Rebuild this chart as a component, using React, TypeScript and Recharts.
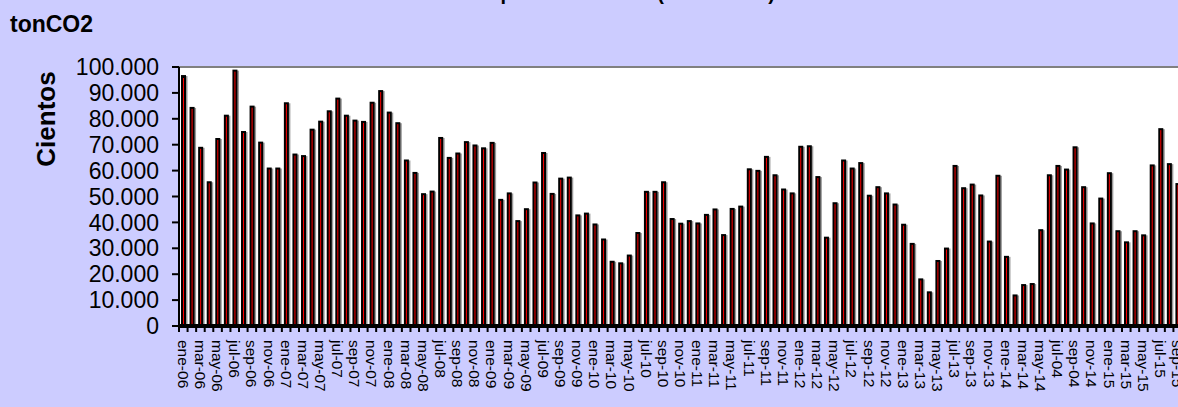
import { BarChart, Bar, XAxis, YAxis, CartesianGrid, ReferenceLine, Label } from "recharts";

const FONT = "Arial, 'Liberation Sans', sans-serif";

const TITLE = "Emisiones de CO2 por combustión (miles tCO2)";
const UNIT = "tonCO2";
const Y_LABEL = "Cientos";

// one label per month, as printed in the original (incl. "jul-04" / "sep-04")
const MESES = [
  "ene-06", "feb-06", "mar-06", "abr-06", "may-06", "jun-06", "jul-06", "ago-06", "sep-06", "oct-06", "nov-06", "dic-06",
  "ene-07", "feb-07", "mar-07", "abr-07", "may-07", "jun-07", "jul-07", "ago-07", "sep-07", "oct-07", "nov-07", "dic-07",
  "ene-08", "feb-08", "mar-08", "abr-08", "may-08", "jun-08", "jul-08", "ago-08", "sep-08", "oct-08", "nov-08", "dic-08",
  "ene-09", "feb-09", "mar-09", "abr-09", "may-09", "jun-09", "jul-09", "ago-09", "sep-09", "oct-09", "nov-09", "dic-09",
  "ene-10", "feb-10", "mar-10", "abr-10", "may-10", "jun-10", "jul-10", "ago-10", "sep-10", "oct-10", "nov-10", "dic-10",
  "ene-11", "feb-11", "mar-11", "abr-11", "may-11", "jun-11", "jul-11", "ago-11", "sep-11", "oct-11", "nov-11", "dic-11",
  "ene-12", "feb-12", "mar-12", "abr-12", "may-12", "jun-12", "jul-12", "ago-12", "sep-12", "oct-12", "nov-12", "dic-12",
  "ene-13", "feb-13", "mar-13", "abr-13", "may-13", "jun-13", "jul-13", "ago-13", "sep-13", "oct-13", "nov-13", "dic-13",
  "ene-14", "feb-14", "mar-14", "abr-14", "may-14", "jun-14", "jul-04", "ago-04", "sep-04", "oct-14", "nov-14", "dic-14",
  "ene-15", "feb-15", "mar-15", "abr-15", "may-15", "jun-15", "jul-15", "ago-15", "sep-15",
];

const VALORES = [
  96500, 84200, 68800, 55500, 72200, 81200, 98600, 74900, 84700, 70800, 60800, 60800,
  86000, 66200, 65600, 75800, 78900, 82900, 87800, 81200, 79300, 78800, 86200, 90700,
  82400, 78300, 63900, 59100, 50900, 51900, 72600, 64900, 66600, 71000, 69700, 68600,
  70700, 48700, 51200, 40500, 45100, 55400, 66800, 51000, 56900, 57300, 42700, 43400,
  39200, 33400, 24800, 24200, 27200, 35900, 51800, 51800, 55500, 41300, 39500, 40500,
  39600, 42900, 45000, 35100, 45200, 46100, 60500, 59900, 65300, 58200, 52700, 51200,
  69200, 69400, 57500, 34100, 47400, 63900, 60800, 62900, 50300, 53600, 51200, 46900,
  39100, 31700, 18000, 13000, 25100, 29900, 61800, 53200, 54600, 50400, 32600, 58000,
  26700, 11800, 15800, 16200, 37000, 58200, 61800, 60400, 69000, 53600, 39600, 49200,
  59000, 36600, 32300, 36600, 35000, 62000, 76000, 62500, 54800,
];

const Y_TICKS = [0, 10000, 20000, 30000, 40000, 50000, 60000, 70000, 80000, 90000, 100000];

const data = MESES.map((mes, i) => ({ mes, valor: VALORES[i] }));

const AXIS_W = 179;
const CHART_W = 1182;
const BAND = (CHART_W - AXIS_W) / MESES.length;

const fmt = (v: number) => String(v).replace(/\B(?=(\d{3})+(?!\d))/g, ".");

const BarShape = (props: any) => {
  const { x, y, width, height } = props;
  if (!height || height <= 0) return null;
  return (
    <g>
      <rect x={x + 1} y={y} width={width + 1.5} height={height} fill="#9a9a9a" />
      <rect x={x} y={y} width={width} height={height} fill="#ff0000" stroke="#000" strokeWidth={2} />
    </g>
  );
};

const XTick = (props: any) => {
  const { x, y, payload } = props;
  const idx = props.index ?? payload.index;
  const axisY = y - 14;
  const bx = x - BAND / 2;
  return (
    <g>
      <line x1={bx} y1={axisY} x2={bx} y2={axisY + 6} stroke="#000" strokeWidth={2} />
      {idx % 2 === 0 && (
        <text
          transform={`translate(${x},${y}) rotate(90)`}
          dy={5.5}
          textAnchor="start"
          fontSize={15.5}
          fontFamily={FONT}
          fill="#000"
        >
          {payload.value}
        </text>
      )}
    </g>
  );
};

const CientosLabel = (props: any) => {
  const vb = props.viewBox || { x: 0, y: 67 };
  const cx = vb.x + 45.5;
  const cy = vb.y + 52;
  return (
    <text
      x={cx}
      y={cy}
      transform={`rotate(-90, ${cx}, ${cy})`}
      textAnchor="middle"
      dominantBaseline="central"
      fontSize={26}
      fontWeight="bold"
      fontFamily={FONT}
      fill="#000"
    >
      {Y_LABEL}
    </text>
  );
};

export default function App() {
  return (
    <div
      style={{
        position: "absolute",
        left: 0,
        top: 0,
        width: 1178,
        height: 407,
        overflow: "hidden",
        background: "#CCCCFF",
        fontFamily: FONT,
      }}
    >
      <BarChart
        width={CHART_W}
        height={407}
        data={data}
        margin={{ top: 67, right: 0, bottom: 0, left: 0 }}
        barSize={3}
      >
        <CartesianGrid horizontal={false} vertical={false} fill="#ffffff" />
        <XAxis
          dataKey="mes"
          interval={0}
          height={81}
          tick={<XTick />}
          tickLine={false}
          tickSize={5}
          tickMargin={9}
          axisLine={{ stroke: "#000", strokeWidth: 4 }}
        />
        <YAxis
          width={AXIS_W}
          domain={[0, 100000]}
          ticks={Y_TICKS}
          interval={0}
          tickFormatter={fmt}
          tick={{ fill: "#000", fontSize: 23, fontFamily: FONT }}
          tickLine={{ stroke: "#000", strokeWidth: 2 }}
          tickSize={7}
          tickMargin={13}
          axisLine={{ stroke: "#000", strokeWidth: 2 }}
        >
          <Label content={CientosLabel} />
        </YAxis>
        <ReferenceLine y={100000} stroke="#808080" strokeWidth={2} />
        <Bar dataKey="valor" shape={<BarShape />} isAnimationActive={false} />
      </BarChart>
      <svg
        width={1178}
        height={407}
        style={{ position: "absolute", left: 0, top: 0, pointerEvents: "none" }}
      >
        <text x={775} y={-0.5} textAnchor="end" fontSize={20} fontWeight="bold" fontFamily={FONT} fill="#000">
          {TITLE}
        </text>
        <text x={10} y={32} fontSize={23} fontWeight="bold" fontFamily={FONT} fill="#000">
          {UNIT}
        </text>
      </svg>
    </div>
  );
}
